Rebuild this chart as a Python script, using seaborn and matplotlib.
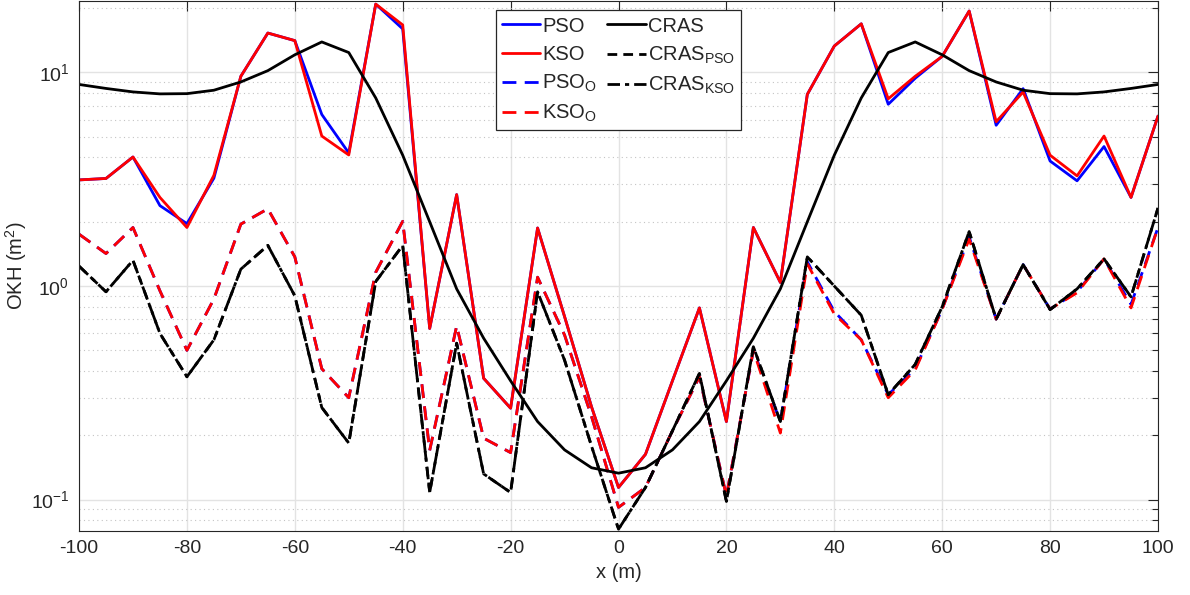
import numpy as np
import pandas as pd
import matplotlib
matplotlib.use("Agg")
import matplotlib.pyplot as plt
import seaborn as sns
from matplotlib.ticker import LogLocator, FixedLocator, NullFormatter

# ---------------- data ----------------
x_m = [-100, -95, -90, -85, -80, -75, -70, -65, -60, -55, -50, -45, -40, -35, -30, -25, -20,
       -15, -10, -5, 0, 5, 10, 15, 20, 25, 30, 35, 40, 45, 50, 55, 60, 65, 70, 75, 80, 85,
       90, 95, 100]

pso = [3.14, 3.19, 4.02, 2.38, 1.96, 3.20, 9.6, 15.3, 14.1, 6.36, 4.20, 20.9, 16.0, 0.633,
       2.68, 0.37, 0.268, 1.87, 0.72, 0.272, 0.114, 0.163, 0.36, 0.79, 0.232, 1.88, 1.04,
       7.9, 13.3, 16.9, 7.10, 9.4, 11.9, 19.4, 5.66, 8.4, 3.85, 3.11, 4.5, 2.60, 6.25]

kso = [3.14, 3.19, 4.02, 2.60, 1.88, 3.30, 9.6, 15.3, 14.1, 5.04, 4.11, 20.9, 16.7, 0.633,
       2.68, 0.37, 0.268, 1.87, 0.72, 0.272, 0.114, 0.163, 0.36, 0.79, 0.232, 1.88, 1.04,
       7.9, 13.3, 16.9, 7.53, 9.6, 11.9, 19.4, 5.88, 8.1, 4.10, 3.28, 5.04, 2.60, 6.25]

pso_o = [1.75, 1.42, 1.88, 0.95, 0.50, 0.87, 1.95, 2.30, 1.37, 0.41, 0.30, 1.16, 2.01, 0.17,
         0.65, 0.194, 0.166, 1.10, 0.59, 0.245, 0.092, 0.114, 0.21, 0.376, 0.104, 0.50, 0.232,
         1.30, 0.76, 0.56, 0.31, 0.41, 0.78, 1.70, 0.70, 1.26, 0.78, 0.94, 1.34, 0.82, 1.88]

kso_o = [1.75, 1.42, 1.88, 0.95, 0.50, 0.87, 1.95, 2.30, 1.37, 0.41, 0.30, 1.16, 2.01, 0.17,
         0.65, 0.194, 0.166, 1.10, 0.59, 0.245, 0.092, 0.114, 0.21, 0.376, 0.104, 0.50, 0.205,
         1.27, 0.74, 0.56, 0.30, 0.405, 0.78, 1.66, 0.70, 1.26, 0.78, 0.93, 1.34, 0.79, 1.88]

cras = [8.79, 8.42, 8.11, 7.94, 7.96, 8.26, 9.03, 10.2, 12.1, 13.9, 12.4, 7.6, 4.1, 2.0,
        0.97, 0.57, 0.36, 0.232, 0.171, 0.141, 0.133, 0.141, 0.171, 0.232, 0.36, 0.57, 0.97,
        2.0, 4.1, 7.6, 12.4, 13.9, 12.1, 10.2, 9.03, 8.26, 7.96, 7.94, 8.11, 8.42, 8.79]

cras_pso = [1.24, 0.94, 1.32, 0.60, 0.376, 0.56, 1.20, 1.55, 0.90, 0.27, 0.184, 1.05, 1.55,
            0.108, 0.54, 0.132, 0.108, 0.94, 0.45, 0.178, 0.0727, 0.114, 0.21, 0.39, 0.098,
            0.52, 0.232, 1.37, 1.0, 0.73, 0.31, 0.43, 0.80, 1.80, 0.70, 1.26, 0.776, 0.97,
            1.34, 0.89, 2.32]

cras_kso = [1.24, 0.94, 1.32, 0.60, 0.376, 0.56, 1.20, 1.55, 0.90, 0.27, 0.184, 1.05, 1.55,
            0.108, 0.54, 0.132, 0.108, 0.94, 0.45, 0.178, 0.0727, 0.114, 0.21, 0.39, 0.098,
            0.52, 0.232, 1.37, 1.0, 0.73, 0.31, 0.43, 0.80, 1.80, 0.70, 1.26, 0.776, 0.97,
            1.34, 0.89, 2.32]

x_ticks = [-100, -80, -60, -40, -20, 0, 20, 40, 60, 80, 100]

# ---------------- style ----------------
sns.set_style("white")
plt.rcParams["font.family"] = ["Liberation Sans", "DejaVu Sans"]
plt.rcParams["axes.unicode_minus"] = False
plt.rcParams["mathtext.default"] = "regular"
plt.rcParams["mathtext.fontset"] = "custom"
plt.rcParams["mathtext.rm"] = "Liberation Sans"
plt.rcParams["mathtext.it"] = "Liberation Sans:italic"

dark = "#262626"
fig = plt.figure(figsize=(11.9, 5.95), dpi=100)
ax = fig.add_axes([0.0664, 0.108, 0.9067, 0.8895])

df = pd.DataFrame({"x": x_m, "PSO": pso, "KSO": kso, "PSO_O": pso_o, "KSO_O": kso_o,
                   "CRAS": cras, "CRAS_PSO": cras_pso, "CRAS_KSO": cras_kso})

lw = 2.0
series = [
    ("PSO", "PSO", "#0000ff", "-"),
    ("KSO", "KSO", "#ff0000", "-"),
    ("PSO_O", "PSO$_{O}$", "#0000ff", (0, (5, 3))),
    ("KSO_O", "KSO$_{O}$", "#ff0000", (0, (5, 3))),
    ("CRAS", "CRAS", "#000000", "-"),
    ("CRAS_PSO", "CRAS$_{PSO}$", "#000000", (0, (3.5, 2.2))),
    ("CRAS_KSO", "CRAS$_{KSO}$", "#000000", (0, (4.5, 1.8, 1.5, 1.8))),
]
for col, lab, c, ls in series:
    sns.lineplot(data=df, x="x", y=col, ax=ax, color=c, linewidth=lw, linestyle=ls,
                 label=lab, estimator=None, sort=False)

ax.set_yscale("log")
ax.set_xlim(-100, 100)
ax.set_ylim(0.0715, 21.5)

ax.xaxis.set_major_locator(FixedLocator(x_ticks))
ax.yaxis.set_major_locator(LogLocator(base=10, numticks=10))
ax.yaxis.set_minor_locator(LogLocator(base=10, subs=np.arange(2, 10), numticks=20))
ax.yaxis.set_minor_formatter(NullFormatter())

ax.grid(True, which="major", color="#e3e3e3", linewidth=1.0, linestyle="-")
ax.grid(True, which="minor", axis="y", color="#c4c4c4", linewidth=0.8, linestyle=(0, (1, 3)))
ax.set_axisbelow(True)

ax.tick_params(which="both", direction="in", top=True, right=True, colors=dark,
               labelsize=14, width=0.8)
ax.tick_params(which="major", length=7, pad=7)
ax.tick_params(which="minor", length=4)
for sp in ax.spines.values():
    sp.set_color(dark)
    sp.set_linewidth(0.8)

ax.set_xlabel("x (m)", fontsize=14.5, color=dark, labelpad=4)
ax.set_ylabel("OKH (m$^{2}$)", fontsize=14.5, color=dark)
ax.yaxis.set_label_coords(-0.046, 0.5)

leg = ax.legend(loc="upper center", bbox_to_anchor=(0.5, 0.983), borderaxespad=0,
                ncol=2, fontsize=14.5, frameon=True, fancybox=False, framealpha=1,
                edgecolor=dark, handlelength=1.9, handletextpad=0.1, columnspacing=0.5,
                labelspacing=0.45, borderpad=0.3)
leg.get_frame().set_linewidth(0.9)

fig.savefig("out.png", dpi=100)
